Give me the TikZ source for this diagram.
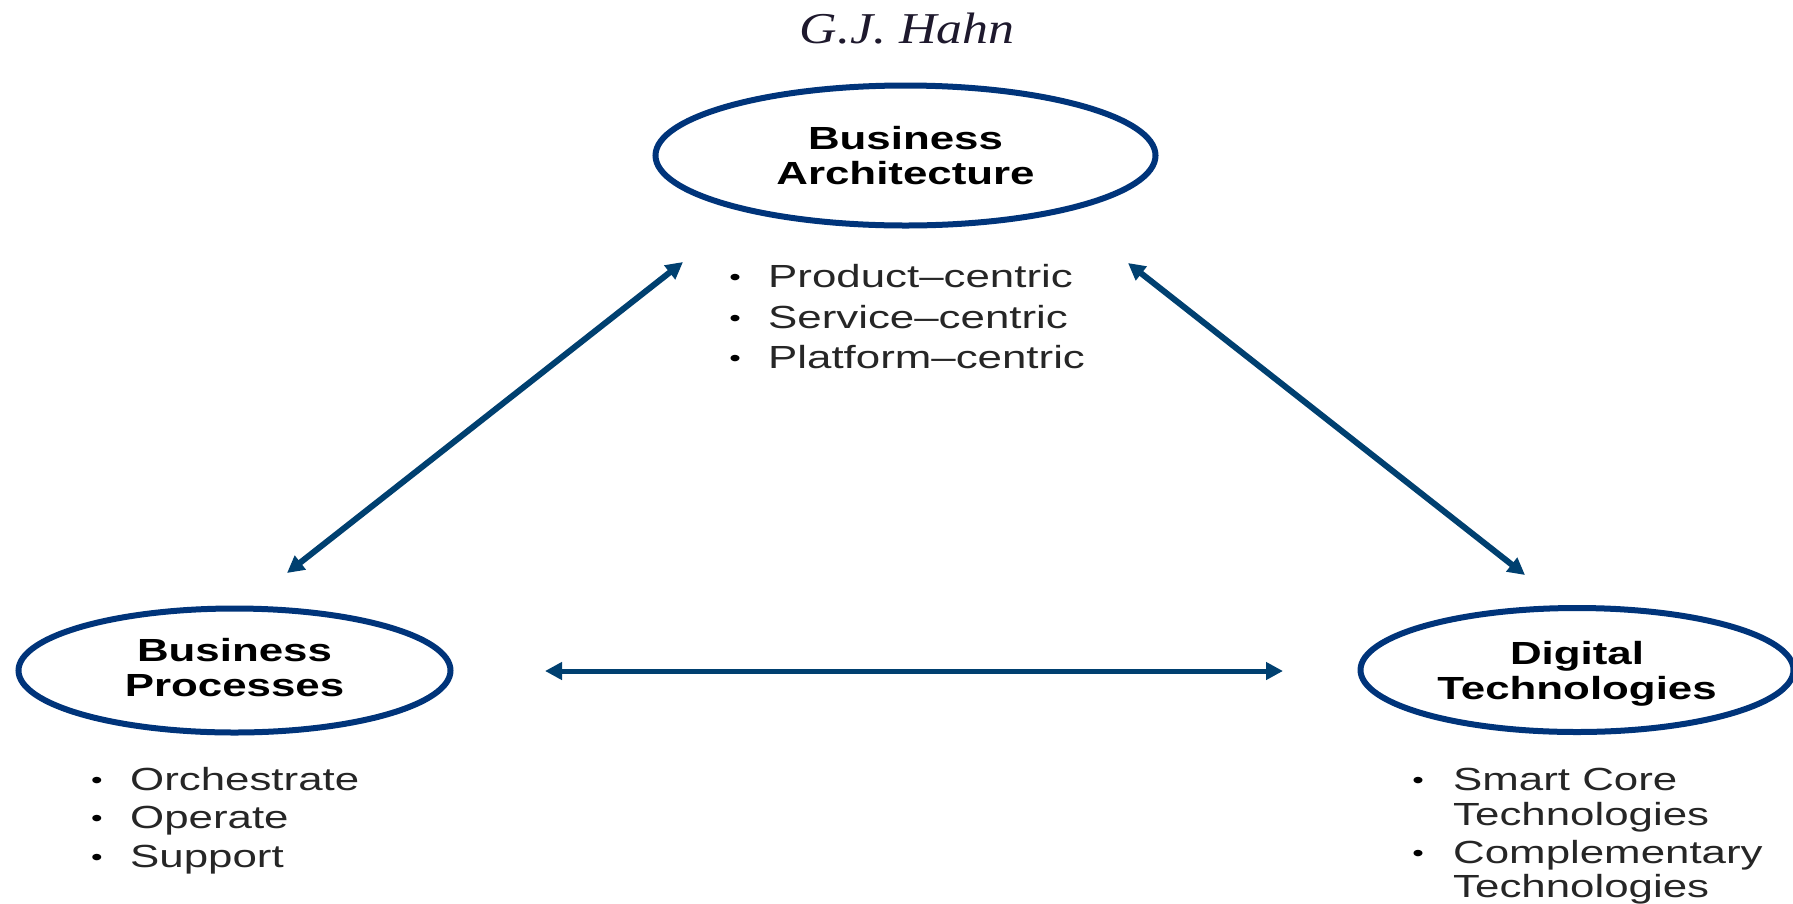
\documentclass[tikz,border=0pt]{standalone}
\usepackage{fontspec}
\usetikzlibrary{shapes.geometric,arrows.meta}
\newfontfamily\sansx[FakeStretch=1.37]{Liberation Sans}
\newfontfamily\serifx[FakeStretch=1.18]{Liberation Serif}
\definecolor{ellcol}{RGB}{0,52,122}
\definecolor{arrcol}{RGB}{0,64,112}
\definecolor{titlecol}{RGB}{30,25,45}
\tikzset{
  ellbox/.style={ellipse, draw=ellcol, line width=6pt, align=center, inner sep=0pt,
    font=\sansx\bfseries\fontsize{32}{35}\selectfont},
  itemtext/.style={anchor=base west, inner sep=0pt, text=black!85, font=\sansx\fontsize{32}{35}\selectfont},
  itemdot/.style={anchor=base, inner sep=0pt, font=\sansx\fontsize{24}{30}\selectfont, yshift=2pt},
  link/.style={draw=arrcol, line width=6pt, {Triangle[length=17pt,width=17pt]}-{Triangle[length=17pt,width=17pt]}},
}
\begin{document}
\begin{tikzpicture}[x=1pt,y=-1pt]
\useasboundingbox (0,0) rectangle (1793,903);
\clip (0,0) rectangle (1793,903);
\fill[white] (0,0) rectangle (1793,903);

% title
\node[anchor=base, inner sep=0pt, text=titlecol, font=\serifx\itshape\fontsize{44}{48}\selectfont] (title) at (907,43) {G.J. Hahn};

% ellipses
\node[ellbox, minimum width=500pt, minimum height=140pt] (ba) at (905.5,155.5) {Business\\Architecture};
\node[ellbox, minimum width=432pt, minimum height=124pt, text depth=6pt] (bp) at (234.5,670.5) {Business\\Processes};
\node[ellbox, minimum width=433pt, minimum height=124pt, text depth=0pt] (dt) at (1577,670) {Digital\\Technologies};

% top bullets
\node[itemdot] (d1) at (735,287) {•};
\node[itemtext] (t1) at (768,287) {Product–centric};
\node[itemdot] (d2) at (735,328) {•};
\node[itemtext] (t2) at (768,328) {Service–centric};
\node[itemdot] (d3) at (735,368) {•};
\node[itemtext] (t3) at (768,368) {Platform–centric};

% left bullets
\node[itemdot] (l1) at (97,790) {•};
\node[itemtext] (lt1) at (130,790) {Orchestrate};
\node[itemdot] (l2) at (97,828) {•};
\node[itemtext] (lt2) at (130,828) {Operate};
\node[itemdot] (l3) at (97,867) {•};
\node[itemtext] (lt3) at (130,867) {Support};

% right bullets
\node[itemdot] (r1) at (1418,790) {•};
\node[itemtext] (rt1) at (1453,790) {Smart Core};
\node[itemtext] (rt1b) at (1453,825) {Technologies};
\node[itemdot] (r2) at (1418,863) {•};
\node[itemtext] (rt2) at (1453,863) {Complementary};
\node[itemtext] (rt2b) at (1453,897) {Technologies};

% arrow end points
\coordinate (a1) at (683,262);
\coordinate (a2) at (287,573);
\coordinate (b1) at (1128,263);
\coordinate (b2) at (1525,575);
\coordinate (c1) at (545,671);
\coordinate (c2) at (1283,671);

\draw[link] (a1) -- (a2);
\draw[link] (b1) -- (b2);
\draw[link, line width=5pt] (c1) -- (c2);
\end{tikzpicture}
\end{document}
